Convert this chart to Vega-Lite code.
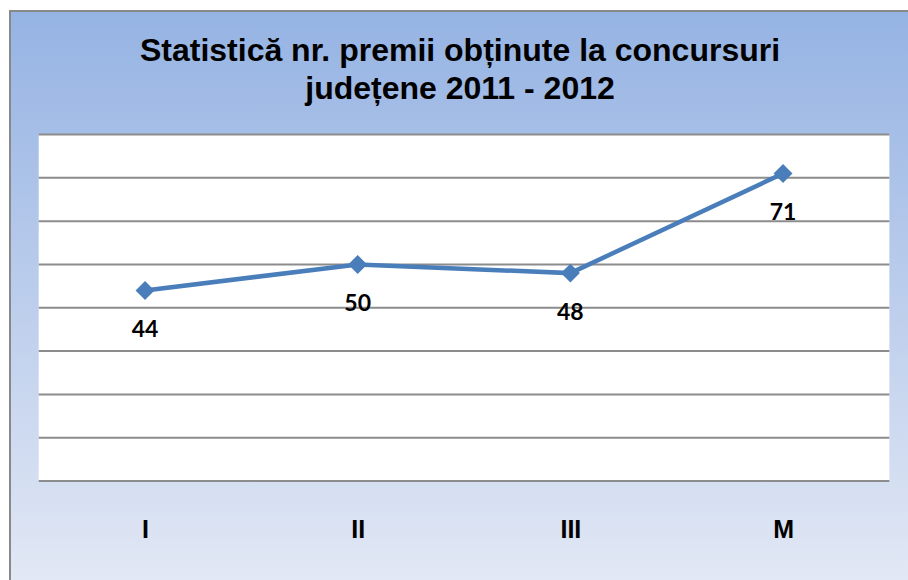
{
  "$schema": "https://vega.github.io/schema/vega-lite/v6.json",
  "autosize": "none",
  "width": 900,
  "height": 571,
  "padding": {"left": 10, "top": 11, "right": 0, "bottom": 0},
  "background": "#ffffff",
  "config": {
    "view": {
      "fill": {"gradient": "linear", "x1": 0, "y1": 0, "x2": 0, "y2": 1, "stops": [{"offset": 0, "color": "#95B3E3"}, {"offset": 1, "color": "#E2E8F5"}]},
      "stroke": "#898989",
      "strokeWidth": 2
    }
  },
  "title": {
    "text": ["Statistică nr. premii obținute la concursuri", "județene 2011 - 2012"],
    "anchor": "middle",
    "frame": "group",
    "font": "Liberation Sans",
    "fontSize": 32,
    "fontWeight": "bold",
    "color": "#000000",
    "lineHeight": 38,
    "baseline": "top",
    "offset": -95
  },
  "datasets": {
    "premii": [
      {"nr": 1, "categorie": "I", "premii": 44},
      {"nr": 2, "categorie": "II", "premii": 50},
      {"nr": 3, "categorie": "III", "premii": 48},
      {"nr": 4, "categorie": "M", "premii": 71}
    ],
    "grila": [
      {"v": 0}, {"v": 10}, {"v": 20}, {"v": 30}, {"v": 40}, {"v": 50}, {"v": 60}, {"v": 70}, {"v": 80}
    ]
  },
  "layer": [
    {
      "data": {"values": [{}]},
      "mark": {"type": "rect", "fill": "#ffffff"},
      "encoding": {
        "x": {"datum": 0.5, "type": "quantitative", "scale": {"domain": [0.365, 4.597], "nice": false, "zero": false},
          "axis": {"values": [1, 2, 3, 4], "labelExpr": "datum.value == 1 ? 'I' : datum.value == 2 ? 'II' : datum.value == 3 ? 'III' : 'M'", "orient": "bottom", "offset": -65, "domain": false, "ticks": false, "grid": false, "title": null, "labelPadding": 0, "labelBaseline": "top", "labelFont": "Liberation Sans", "labelFontSize": 25, "labelFontWeight": "bold", "labelColor": "#000000", "labelFlush": false}},
        "x2": {"datum": 4.5},
        "y": {"datum": 0, "type": "quantitative", "scale": {"domain": [-23.32, 108.52], "nice": false, "zero": false}, "axis": null},
        "y2": {"datum": 80}
      }
    },
    {
      "data": {"name": "grila"},
      "mark": {"type": "rule", "color": "#8c8c8c", "strokeWidth": 2},
      "encoding": {
        "x": {"datum": 0.5, "type": "quantitative", "scale": {"domain": [0.365, 4.597], "nice": false, "zero": false},
          "axis": {"values": [1, 2, 3, 4], "labelExpr": "datum.value == 1 ? 'I' : datum.value == 2 ? 'II' : datum.value == 3 ? 'III' : 'M'", "orient": "bottom", "offset": -65, "domain": false, "ticks": false, "grid": false, "title": null, "labelPadding": 0, "labelBaseline": "top", "labelFont": "Liberation Sans", "labelFontSize": 25, "labelFontWeight": "bold", "labelColor": "#000000", "labelFlush": false}},
        "x2": {"datum": 4.5},
        "y": {"field": "v", "type": "quantitative", "scale": {"domain": [-23.32, 108.52], "nice": false, "zero": false}, "axis": null}
      }
    },
    {
      "data": {"name": "premii"},
      "mark": {"type": "line", "color": "#4A7EBB", "strokeWidth": 4.5},
      "encoding": {
        "x": {"field": "nr", "type": "quantitative", "scale": {"domain": [0.365, 4.597], "nice": false, "zero": false},
          "axis": {"values": [1, 2, 3, 4], "labelExpr": "datum.value == 1 ? 'I' : datum.value == 2 ? 'II' : datum.value == 3 ? 'III' : 'M'", "orient": "bottom", "offset": -65, "domain": false, "ticks": false, "grid": false, "title": null, "labelPadding": 0, "labelBaseline": "top", "labelFont": "Liberation Sans", "labelFontSize": 25, "labelFontWeight": "bold", "labelColor": "#000000", "labelFlush": false}},
        "y": {"field": "premii", "type": "quantitative", "scale": {"domain": [-23.32, 108.52], "nice": false, "zero": false}, "axis": null}
      }
    },
    {
      "data": {"name": "premii"},
      "mark": {"type": "point", "shape": "diamond", "filled": true, "color": "#4A7EBB", "size": 360, "opacity": 1},
      "encoding": {
        "x": {"field": "nr", "type": "quantitative", "scale": {"domain": [0.365, 4.597], "nice": false, "zero": false},
          "axis": {"values": [1, 2, 3, 4], "labelExpr": "datum.value == 1 ? 'I' : datum.value == 2 ? 'II' : datum.value == 3 ? 'III' : 'M'", "orient": "bottom", "offset": -65, "domain": false, "ticks": false, "grid": false, "title": null, "labelPadding": 0, "labelBaseline": "top", "labelFont": "Liberation Sans", "labelFontSize": 25, "labelFontWeight": "bold", "labelColor": "#000000", "labelFlush": false}},
        "y": {"field": "premii", "type": "quantitative", "scale": {"domain": [-23.32, 108.52], "nice": false, "zero": false}, "axis": null}
      }
    },
    {
      "data": {"name": "premii"},
      "mark": {"type": "text", "dy": 40, "baseline": "middle", "align": "center", "font": "Lato", "fontWeight": "bold", "fontSize": 23, "color": "#000000"},
      "encoding": {
        "x": {"field": "nr", "type": "quantitative", "scale": {"domain": [0.365, 4.597], "nice": false, "zero": false},
          "axis": {"values": [1, 2, 3, 4], "labelExpr": "datum.value == 1 ? 'I' : datum.value == 2 ? 'II' : datum.value == 3 ? 'III' : 'M'", "orient": "bottom", "offset": -65, "domain": false, "ticks": false, "grid": false, "title": null, "labelPadding": 0, "labelBaseline": "top", "labelFont": "Liberation Sans", "labelFontSize": 25, "labelFontWeight": "bold", "labelColor": "#000000", "labelFlush": false}},
        "y": {"field": "premii", "type": "quantitative", "scale": {"domain": [-23.32, 108.52], "nice": false, "zero": false}, "axis": null},
        "text": {"field": "premii", "type": "quantitative"}
      }
    }
  ]
}
